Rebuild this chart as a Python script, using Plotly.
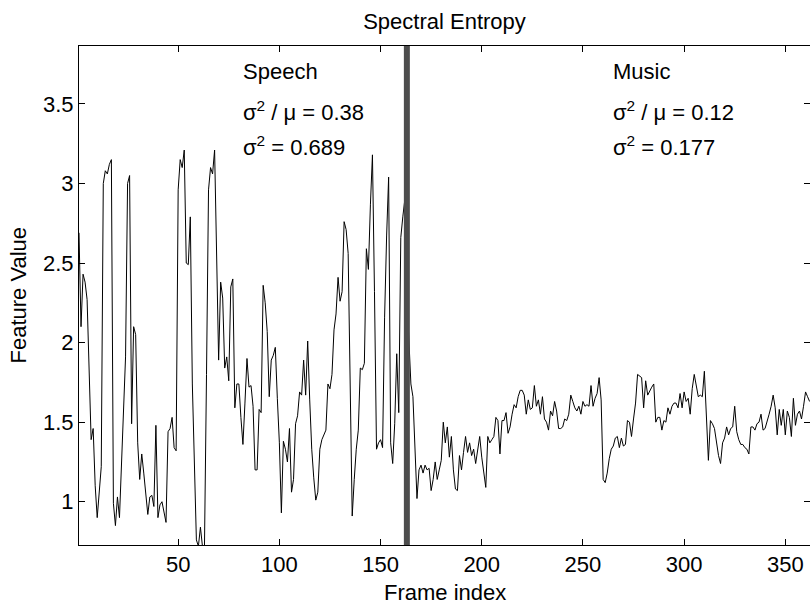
import plotly.graph_objects as go

# Spectral entropy per frame (frames 1..362)
entropy = [
    2.69, 2.10, 2.43, 2.38, 2.27, 1.85, 1.39, 1.46, 1.10, 0.90,
    1.05, 1.22, 3.00, 3.08, 3.06, 3.12, 3.15, 0.99, 0.85, 1.03,
    0.90, 1.25, 1.64, 1.91, 3.00, 3.05, 1.49, 2.10, 2.05, 1.37,
    1.14, 1.30, 1.18, 1.05, 0.92, 1.03, 1.04, 0.97, 1.48, 0.90,
    0.98, 1.00, 0.92, 0.87, 1.44, 1.46, 1.53, 1.34, 1.32, 2.96,
    3.15, 3.10, 3.21, 2.50, 2.49, 2.79, 1.74, 1.20, 0.76, 0.72,
    0.84, 0.72, 0.72, 1.80, 2.96, 3.10, 3.06, 3.21, 2.50, 1.89,
    2.38, 2.28, 1.84, 1.91, 1.76, 2.35, 2.40, 1.59, 1.74, 1.74,
    1.53, 1.36, 1.62, 1.90, 1.72, 1.73, 1.60, 1.20, 1.20, 1.58,
    1.56, 2.36, 2.25, 2.07, 1.66, 1.89, 1.92, 1.97, 1.65, 1.37,
    0.93, 1.38, 1.33, 1.25, 1.46, 1.06, 1.14, 1.49, 1.54, 1.69,
    1.67, 1.89, 1.67, 2.01, 1.64, 1.33, 1.15, 1.01, 1.06, 1.33,
    1.39, 1.42, 1.45, 1.74, 1.71, 1.80, 2.08, 2.18, 2.41, 2.26,
    2.32, 2.76, 2.71, 2.56, 1.74, 0.91, 1.14, 1.33, 1.45, 1.84,
    1.83, 1.87, 2.59, 2.46, 2.87, 3.18, 2.32, 1.33, 1.37, 1.39,
    1.34, 2.16, 2.67, 3.04, 1.37, 1.24, 1.49, 1.93, 1.56, 2.66,
    2.79, 2.90, 2.30, 1.97, 1.74, 1.66, 1.35, 1.02, 1.20, 1.23,
    1.18, 1.23, 1.20, 1.21, 1.07, 1.14, 1.25, 1.14, 1.20, 1.26,
    1.50, 1.37, 1.47, 1.28, 1.41, 1.20, 1.08, 1.07, 1.29, 1.20,
    1.31, 1.41, 1.31, 1.37, 1.29, 1.33, 1.24, 1.34, 1.41, 1.28,
    1.20, 1.09, 1.41, 1.37, 1.39, 1.41, 1.53, 1.51, 1.30, 1.51,
    1.51, 1.56, 1.43, 1.47, 1.55, 1.61, 1.59, 1.66, 1.70, 1.70,
    1.67, 1.55, 1.64, 1.58, 1.59, 1.73, 1.60, 1.64, 1.55, 1.66,
    1.52, 1.50, 1.45, 1.57, 1.54, 1.63, 1.57, 1.46, 1.46, 1.47,
    1.52, 1.51, 1.55, 1.67, 1.63, 1.59, 1.57, 1.60, 1.55, 1.63,
    1.60, 1.61, 1.60, 1.73, 1.60, 1.65, 1.68, 1.78, 1.64, 1.14,
    1.12, 1.18, 1.27, 1.33, 1.35, 1.40, 1.41, 1.34, 1.40, 1.35,
    1.36, 1.51, 1.50, 1.41, 1.52, 1.62, 1.80, 1.79, 1.78, 1.59,
    1.76, 1.67, 1.70, 1.72, 1.74, 1.50, 1.53, 1.53, 1.45, 1.51,
    1.50, 1.59, 1.55, 1.60, 1.62, 1.62, 1.59, 1.68, 1.59, 1.69,
    1.63, 1.65, 1.55, 1.71, 1.80, 1.72, 1.66, 1.67, 1.66, 1.82,
    1.55, 1.26, 1.51, 1.49, 1.46, 1.36, 1.29, 1.24, 1.37, 1.40,
    1.47, 1.42, 1.46, 1.47, 1.60, 1.44, 1.39, 1.36, 1.36, 1.34,
    1.33, 1.30, 1.47, 1.47, 1.45, 1.49, 1.50, 1.55, 1.45, 1.46,
    1.50, 1.55, 1.60, 1.67, 1.59, 1.42, 1.58, 1.48, 1.58, 1.42,
    1.57, 1.53, 1.41, 1.65, 1.48, 1.55, 1.57, 1.52, 1.60, 1.69,
    1.66, 1.63,
]
frames = list(range(1, len(entropy) + 1))

boundary_frame = 163
x_ticks = [50, 100, 150, 200, 250, 300, 350]
y_ticks = [1, 1.5, 2, 2.5, 3, 3.5]
y_tick_labels = ["1", "1.5", "2", "2.5", "3", "3.5"]

segment_labels = ["Speech", "Music"]
segment_label_x = [81, 264]
ratio_texts = ["σ<sup>2</sup> / μ = 0.38", "σ<sup>2</sup> / μ = 0.12"]
var_texts = ["σ<sup>2</sup> = 0.689", "σ<sup>2</sup> = 0.177"]

FONT = "Liberation Sans, Arial, Helvetica, sans-serif"
FS = 22

fig = go.Figure()
fig.add_trace(go.Scatter(x=frames, y=entropy, mode="lines",
                         line=dict(color="black", width=1), showlegend=False,
                         hoverinfo="skip"))

fig.add_shape(type="line", xref="x", yref="paper", x0=boundary_frame, x1=boundary_frame,
              y0=0, y1=1, line=dict(color="#4d4d4d", width=6), layer="above")

annotations = []
for lbl, xx, r, v in zip(segment_labels, segment_label_x, ratio_texts, var_texts):
    for txt, yy in ((lbl, 3.705), (r, 3.455), (v, 3.235)):
        annotations.append(dict(x=xx, y=yy, xref="x", yref="y", text=txt,
                                showarrow=False, xanchor="left", yanchor="middle",
                                font=dict(family=FONT, size=FS, color="black")))

annotations.append(dict(x=0.5, y=0, xref="paper", yref="paper", text="Frame index",
                        showarrow=False, xanchor="center", yanchor="middle", yshift=-47,
                        font=dict(family=FONT, size=FS, color="black")))
annotations.append(dict(x=0, y=0.5, xref="paper", yref="paper", text="Feature Value",
                        showarrow=False, xanchor="center", yanchor="middle", xshift=-61,
                        textangle=-90, font=dict(family=FONT, size=FS, color="black")))

fig.update_layout(
    width=810, height=604,
    margin=dict(l=79, r=0, t=46, b=59),
    paper_bgcolor="white", plot_bgcolor="white",
    font=dict(family=FONT, size=FS, color="black"),
    title=dict(text="Spectral Entropy", x=0.5, xanchor="center", xref="paper",
               y=1 - 21 / 604, yref="container", yanchor="middle",
               font=dict(family=FONT, size=FS, color="black")),
    annotations=annotations,
    xaxis=dict(range=[1, 362.2], tickvals=x_ticks, ticks="inside", ticklen=6,
               tickcolor="black", showline=True, linecolor="black", linewidth=1,
               mirror="ticks", showgrid=False, zeroline=False,
               tickfont=dict(family=FONT, size=FS, color="black")),
    yaxis=dict(range=[0.728, 3.864], tickvals=y_ticks, ticktext=y_tick_labels,
               ticks="inside", ticklen=6, tickcolor="black", showline=True,
               linecolor="black", linewidth=1, mirror="ticks", showgrid=False,
               zeroline=False, tickfont=dict(family=FONT, size=FS, color="black")),
)

fig.write_html("out.html")
